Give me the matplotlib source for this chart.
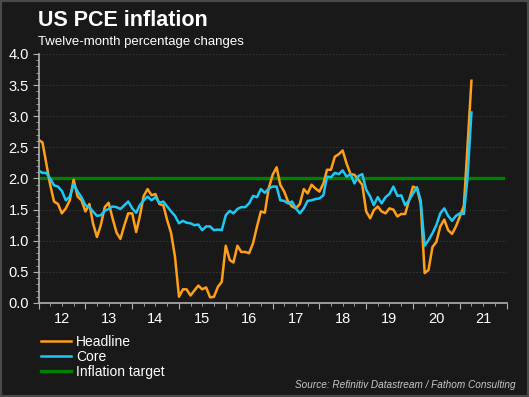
import numpy as np
import pandas as pd
import matplotlib
matplotlib.use('Agg')
import matplotlib.pyplot as plt
import matplotlib.dates as mdates
from matplotlib.ticker import MultipleLocator, NullFormatter
from matplotlib.patches import Rectangle

# Monatsdaten: Jan 2012 bis Apr 2021 (Veränderung gg. Vorjahr in %)
headline = [2.62, 2.58, 2.25, 1.90, 1.63, 1.59, 1.44, 1.52, 1.65, 1.98, 1.71, 1.65,
            1.47, 1.59, 1.28, 1.06, 1.25, 1.54, 1.61, 1.36, 1.13, 1.03, 1.25, 1.44,
            1.44, 1.14, 1.39, 1.72, 1.83, 1.73, 1.75, 1.59, 1.57, 1.33, 1.12, 0.74,
            0.10, 0.22, 0.22, 0.12, 0.20, 0.28, 0.22, 0.25, 0.09, 0.10, 0.26, 0.34,
            0.92, 0.69, 0.65, 0.92, 0.82, 0.82, 0.80, 0.96, 1.23, 1.47, 1.45, 1.84,
            2.06, 2.18, 1.90, 1.79, 1.63, 1.55, 1.52, 1.59, 1.83, 1.76, 1.90, 1.84,
            1.79, 1.92, 2.14, 2.14, 2.35, 2.39, 2.45, 2.24, 2.07, 2.06, 1.98, 1.90,
            1.47, 1.36, 1.49, 1.55, 1.47, 1.44, 1.52, 1.50, 1.39, 1.43, 1.43, 1.65,
            1.87, 1.84, 1.60, 0.48, 0.53, 0.90, 0.98, 1.23, 1.34, 1.17, 1.11, 1.23,
            1.39, 1.56, 2.50, 3.57]

core = [2.13, 2.09, 2.09, 2.00, 1.89, 1.87, 1.80, 1.65, 1.71, 1.91, 1.79, 1.70,
        1.57, 1.54, 1.47, 1.40, 1.41, 1.48, 1.51, 1.55, 1.54, 1.51, 1.57, 1.63,
        1.52, 1.45, 1.57, 1.65, 1.71, 1.65, 1.70, 1.61, 1.63, 1.55, 1.47, 1.40,
        1.28, 1.32, 1.29, 1.28, 1.25, 1.26, 1.17, 1.23, 1.23, 1.17, 1.18, 1.17,
        1.41, 1.48, 1.44, 1.51, 1.54, 1.54, 1.60, 1.72, 1.70, 1.83, 1.77, 1.84,
        1.87, 1.87, 1.65, 1.64, 1.60, 1.63, 1.52, 1.44, 1.52, 1.64, 1.65, 1.67,
        1.68, 1.73, 2.03, 2.02, 2.09, 2.07, 2.13, 2.03, 2.07, 1.92, 2.04, 2.07,
        1.82, 1.71, 1.57, 1.70, 1.60, 1.70, 1.75, 1.87, 1.72, 1.73, 1.57, 1.65,
        1.76, 1.86, 1.65, 0.92, 1.01, 1.12, 1.25, 1.44, 1.52, 1.40, 1.32, 1.40,
        1.44, 1.43, 2.00, 3.06]

target_value = 2.0
year_labels = ['12', '13', '14', '15', '16', '17', '18', '19', '20', '21']

dates = pd.date_range('2012-01-01', periods=len(headline), freq='MS')
target_dates = pd.date_range('2012-01-01', '2021-12-01', freq='MS')
target = [target_value] * len(target_dates)

bg = '#191919'
plt.rcParams['font.family'] = ['Liberation Sans', 'DejaVu Sans']

fig = plt.figure(figsize=(5.29, 3.97), dpi=100, facecolor=bg)
ax = fig.add_axes([0.0728, 0.2368, 0.885, 0.6272], facecolor=bg)

ax.plot(target_dates, target, color='#008000', lw=2.4, zorder=2, label='Inflation target')
ax.plot(dates, headline, color='#ff9f1a', lw=1.8, zorder=3, label='Headline')
ax.plot(dates, core, color='#1ec8f5', lw=1.8, zorder=4, label='Core')

ax.set_xlim(pd.Timestamp('2012-01-01'), pd.Timestamp('2022-01-01'))
ax.set_ylim(0, 4)

# y-Achse
ax.yaxis.set_major_locator(MultipleLocator(0.5))
ax.yaxis.set_minor_locator(MultipleLocator(0.1))
ax.yaxis.set_major_formatter(plt.FuncFormatter(lambda v, p: f'{v:.1f}'))
ax.grid(axis='y', which='major', color='#3a3a3a', linestyle=(0, (2, 2)), lw=0.6)

# x-Achse: Jahresticks, Beschriftung in der Jahresmitte
ax.xaxis.set_major_locator(mdates.YearLocator())
ax.xaxis.set_major_formatter(NullFormatter())
ax.xaxis.set_minor_locator(mdates.MonthLocator(bymonth=[1, 4, 7, 10]))
for i, lab in enumerate(year_labels):
    ax.text(pd.Timestamp(f'20{lab}-07-01'), -0.064, lab, transform=ax.get_xaxis_transform(),
            ha='center', va='center', color='white', fontsize=10.5)

for s in ['top', 'right']:
    ax.spines[s].set_visible(False)
for s in ['left', 'bottom']:
    ax.spines[s].set_color('#b0b0b0')
    ax.spines[s].set_linewidth(1.2)

ax.tick_params(axis='y', which='major', colors='#b0b0b0', labelcolor='white',
               labelsize=10.5, length=4, pad=3)
ax.tick_params(axis='y', which='minor', colors='#b0b0b0', length=2)
ax.tick_params(axis='x', which='major', colors='#b0b0b0', length=4)
ax.tick_params(axis='x', which='minor', colors='#b0b0b0', length=2.5)

# Titel
fig.text(0.071, 0.935, 'US PCE inflation', color='white', fontsize=15.5,
         fontweight='bold', ha='left', va='baseline')
fig.text(0.071, 0.886, 'Twelve-month percentage changes', color='white',
         fontsize=9.5, ha='left', va='baseline')

# Legende
handles, labels = ax.get_legend_handles_labels()
order = [1, 2, 0]
leg = fig.legend([handles[i] for i in order], [labels[i] for i in order],
                 loc='upper left', bbox_to_anchor=(0.0665, 0.171), frameon=False,
                 fontsize=10, labelcolor='white', handlelength=2.15,
                 handletextpad=0.4, labelspacing=0.08, borderaxespad=0)

fig.text(0.975, 0.022, 'Source: Refinitiv Datastream / Fathom Consulting',
         color='#c8c8c8', fontsize=7.2, style='italic', ha='right', va='baseline')

fig.patches.append(Rectangle((0, 0), 1, 1, transform=fig.transFigure,
                             fill=False, edgecolor='#4a4a4a', lw=3))

fig.savefig('out.png', dpi=100, facecolor=bg)
